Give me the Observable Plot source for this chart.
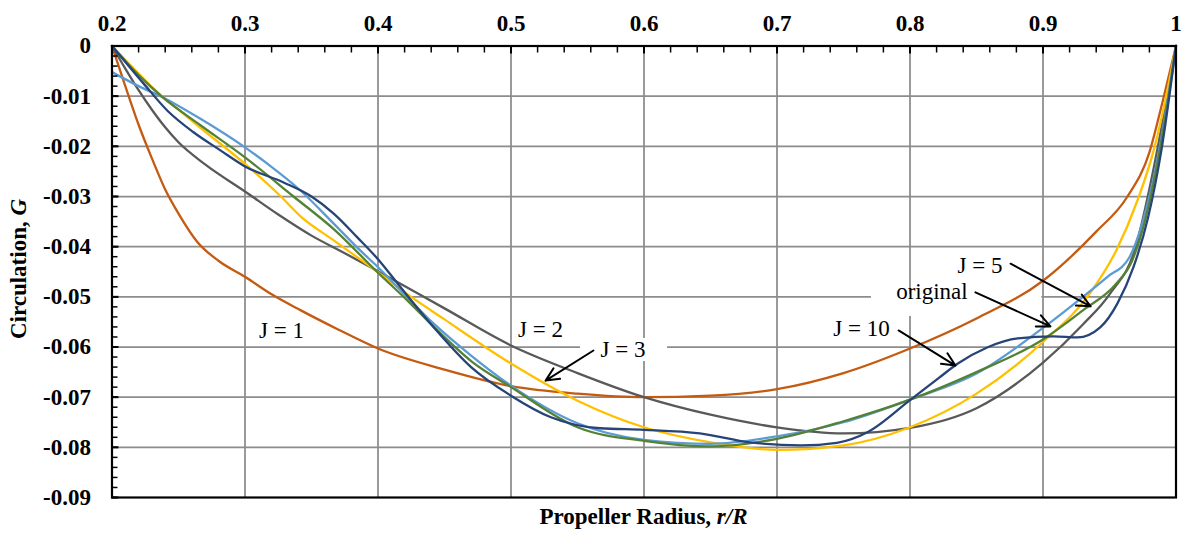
<!DOCTYPE html>
<html><head><meta charset="utf-8">
<script src="https://cdn.jsdelivr.net/npm/d3@7"></script>
<script src="https://cdn.jsdelivr.net/npm/@observablehq/plot@0.6"></script>
<style>
body{margin:0;background:#fff;}
</style></head><body><div id="chart"></div>
<script>
// ---- data ----
const seriesNames = ["J = 1", "J = 2", "J = 3", "original", "J = 5", "J = 10"];
const palette = ["#C55A11", "#595959", "#FFC000", "#5B9BD5", "#548235", "#264478"];

const rJ1 = [0.2,0.21,0.22,0.23,0.24,0.25,0.264,0.28,0.3,0.32,0.342,0.37,0.4,0.45,0.5,0.55,0.6,0.65,0.7,0.75,0.8,0.85,0.9,0.94,0.963,0.98,0.99,1.0];
const gJ1 = [0,-0.0080,-0.0157,-0.0224,-0.0286,-0.0334,-0.0390,-0.0428,-0.0460,-0.0495,-0.0527,-0.0565,-0.0603,-0.0645,-0.0678,-0.0693,-0.0700,-0.0697,-0.0684,-0.0652,-0.0603,-0.0543,-0.0468,-0.0370,-0.0302,-0.0212,-0.0110,0];

const rJ2 = [0.2,0.21,0.22,0.23,0.24,0.25,0.27,0.3,0.325,0.35,0.375,0.4,0.45,0.5,0.55,0.6,0.65,0.7,0.75,0.8,0.85,0.9,0.93,0.95,0.97,0.98,0.99,1.0];
const gJ2 = [0,-0.0045,-0.0088,-0.0127,-0.0162,-0.0192,-0.0236,-0.0290,-0.0336,-0.0378,-0.0413,-0.0449,-0.0523,-0.0597,-0.0652,-0.0700,-0.0735,-0.0760,-0.0772,-0.0761,-0.0722,-0.0631,-0.0555,-0.0495,-0.0398,-0.0285,-0.0150,0];

const rJ3 = [0.2,0.22,0.2365,0.25,0.2665,0.3,0.327,0.342,0.367,0.4,0.417,0.45,0.5,0.55,0.6,0.65,0.7,0.75,0.8,0.85,0.9,0.935,0.955,0.971,0.983,0.99,1.0];
const gJ3 = [0,-0.0055,-0.0098,-0.0127,-0.0163,-0.0235,-0.0300,-0.0340,-0.0388,-0.0451,-0.0485,-0.0545,-0.0633,-0.0707,-0.0760,-0.0790,-0.0805,-0.0796,-0.0760,-0.0693,-0.0590,-0.0494,-0.0408,-0.0308,-0.0210,-0.0133,0];

const rOrig = [0.2,0.22,0.238,0.2665,0.3,0.317,0.3417,0.3667,0.3868,0.4,0.422,0.4417,0.47,0.5,0.55,0.6,0.65,0.7,0.75,0.8,0.85,0.9,0.93,0.948,0.965,0.975,0.985,0.993,1.0];
const gOrig = [-0.0052,-0.0080,-0.0102,-0.0145,-0.0202,-0.0235,-0.0288,-0.0354,-0.0408,-0.0441,-0.0501,-0.0553,-0.0617,-0.0677,-0.0752,-0.0785,-0.0793,-0.0778,-0.0750,-0.0705,-0.0653,-0.0562,-0.0500,-0.0461,-0.0421,-0.0350,-0.0240,-0.0120,0];

const rJ5 = [0.2,0.22,0.238,0.2665,0.3,0.3365,0.3667,0.4,0.422,0.4447,0.47,0.5,0.55,0.6,0.65,0.7,0.75,0.8,0.85,0.9,0.93,0.955,0.967,0.977,0.987,0.994,1.0];
const gJ5 = [0,-0.0058,-0.0102,-0.0158,-0.0222,-0.0300,-0.0365,-0.0452,-0.0507,-0.0567,-0.0628,-0.0680,-0.0760,-0.0787,-0.0798,-0.0783,-0.0748,-0.0705,-0.0650,-0.0585,-0.0527,-0.0474,-0.0428,-0.0345,-0.0220,-0.0110,0];

const rJ10 = [0.2,0.2238,0.2417,0.2613,0.2815,0.3,0.329,0.35,0.3667,0.3843,0.4,0.417,0.4417,0.47,0.5,0.53,0.567,0.6,0.642,0.68,0.718,0.745,0.768,0.8,0.822,0.836,0.858,0.881,0.908,0.926,0.943,0.956,0.968,0.979,0.989,1.0];
const gJ10 = [0,-0.0075,-0.0129,-0.0172,-0.0208,-0.0240,-0.0272,-0.0300,-0.0334,-0.0381,-0.0425,-0.0481,-0.0560,-0.0640,-0.0697,-0.0740,-0.0762,-0.0765,-0.0772,-0.0790,-0.0796,-0.0791,-0.0770,-0.0706,-0.0661,-0.0633,-0.0601,-0.0583,-0.0579,-0.0581,-0.0561,-0.0513,-0.0441,-0.0342,-0.0208,0];

const xTicks = [0.2,0.3,0.4,0.5,0.6,0.7,0.8,0.9,1.0];
const xMinor = [0.22,0.24,0.26,0.28,0.32,0.34,0.36,0.38,0.42,0.44,0.46,0.48,0.52,0.54,0.56,0.58,0.62,0.64,0.66,0.68,0.72,0.74,0.76,0.78,0.82,0.84,0.86,0.88,0.92,0.94,0.96,0.98];
const yTicks = [0,-0.01,-0.02,-0.03,-0.04,-0.05,-0.06,-0.07,-0.08,-0.09];
const yMinor = d3.range(0, 46).map(i => -i * 0.002);

const xTitle = "Propeller Radius, ";
const xTitleItalic = "r/R";
const yTitle = "Circulation, ";
const yTitleItalic = "G";

// annotations (data units)
const annLabels = [
  {text: "J = 1", x: 0.3274, y: -0.0568},
  {text: "J = 2", x: 0.5222, y: -0.0566},
  {text: "J = 3", x: 0.5842, y: -0.0606},
  {text: "J = 5", x: 0.8526, y: -0.0437},
  {text: "original", x: 0.8165, y: -0.0489},
  {text: "J = 10", x: 0.7635, y: -0.0564}
];
const annArrows = [
  {x1: 0.562, y1: -0.0607, x2: 0.526, y2: -0.0667},
  {x1: 0.8756, y1: -0.0434, x2: 0.9358, y2: -0.0519},
  {x1: 0.8492, y1: -0.0491, x2: 0.9056, y2: -0.0559},
  {x1: 0.7914, y1: -0.0567, x2: 0.8342, y2: -0.0637}
];
const annBoxes = [
  {x1: 0.5011, x2: 0.5432, y1: -0.0547, y2: -0.0589},
  {x1: 0.5523, x2: 0.6177, y1: -0.0583, y2: -0.0629},
  {x1: 0.7710, x2: 0.8991, y1: -0.0495, y2: -0.0539}
];

// ---- build table ----
const seriesR = [rJ1, rJ2, rJ3, rOrig, rJ5, rJ10];
const seriesG = [gJ1, gJ2, gJ3, gOrig, gJ5, gJ10];
const rows = [];
seriesNames.forEach((name, i) => {
  seriesR[i].forEach((r, j) => rows.push({name, r, G: seriesG[i][j]}));
});

const serif = "'Liberation Serif', 'Times New Roman', Times, serif";
const fmtX = d => d === 1 ? "1" : d.toFixed(1);
const fmtY = d => d === 0 ? "0" : d.toFixed(2);
const gridColor = "#8c8c8c";

const chart = Plot.plot({
  width: 1183,
  height: 533,
  marginLeft: 111.5,
  marginRight: 7.5,
  marginTop: 45.5,
  marginBottom: 36,
  style: {fontFamily: serif, fontSize: "23px", background: "white", color: "black"},
  x: {domain: [0.2, 1], axis: null, label: null},
  y: {domain: [-0.09, 0], axis: null, label: null},
  color: {domain: seriesNames, range: palette},
  marks: [
    Plot.gridX(xTicks.slice(1, -1), {stroke: gridColor, strokeOpacity: 1, strokeWidth: 1.75}),
    Plot.gridY(yTicks.slice(1, -1), {stroke: gridColor, strokeOpacity: 1, strokeWidth: 1.75}),
    Plot.rect(annBoxes, {x1: "x1", x2: "x2", y1: "y1", y2: "y2", fill: "white"}),
    Plot.line(rows, {x: "r", y: "G", z: "name", stroke: "name", strokeWidth: 2.3, curve: "monotone-x"}),
    Plot.arrow(annArrows, {x1: "x1", y1: "y1", x2: "x2", y2: "y2", stroke: "black", strokeWidth: 2, headLength: 11, headAngle: 50}),
    Plot.text(annLabels, {x: "x", y: "y", text: "text", fill: "black", fontSize: 23, fontFamily: serif}),
    Plot.axisX(xMinor, {anchor: "top", tickSize: -6, tickFormat: () => "", label: null, strokeWidth: 1.5}),
    Plot.axisX(xTicks, {anchor: "top", tickSize: -7, tickPadding: 22, tickFormat: fmtX, label: null, fontWeight: "bold", fontSize: 23, fontFamily: serif, strokeWidth: 2}),
    Plot.axisY(yMinor, {anchor: "left", tickSize: -6, tickFormat: () => "", label: null, strokeWidth: 1.5}),
    Plot.axisY(yTicks, {anchor: "left", tickSize: -7, tickPadding: 28, tickFormat: fmtY, label: null, fontWeight: "bold", fontSize: 23, fontFamily: serif, strokeWidth: 2}),
    Plot.frame({stroke: "black", strokeWidth: 2.2})
  ]
});

document.getElementById("chart").appendChild(chart);

const svg = d3.select(chart);
const xt = svg.append("text")
  .attr("x", 643.5).attr("y", 524)
  .attr("text-anchor", "middle")
  .attr("font-family", serif)
  .attr("font-weight", "bold").attr("font-size", 23).attr("fill", "black");
xt.append("tspan").text(xTitle);
xt.append("tspan").attr("font-style", "italic").text(xTitleItalic);

const yt = svg.append("text")
  .attr("transform", "translate(26,269) rotate(-90)")
  .attr("text-anchor", "middle")
  .attr("font-family", serif)
  .attr("font-weight", "bold").attr("font-size", 23).attr("fill", "black");
yt.append("tspan").text(yTitle);
yt.append("tspan").attr("font-style", "italic").text(yTitleItalic);
</script></body></html>
